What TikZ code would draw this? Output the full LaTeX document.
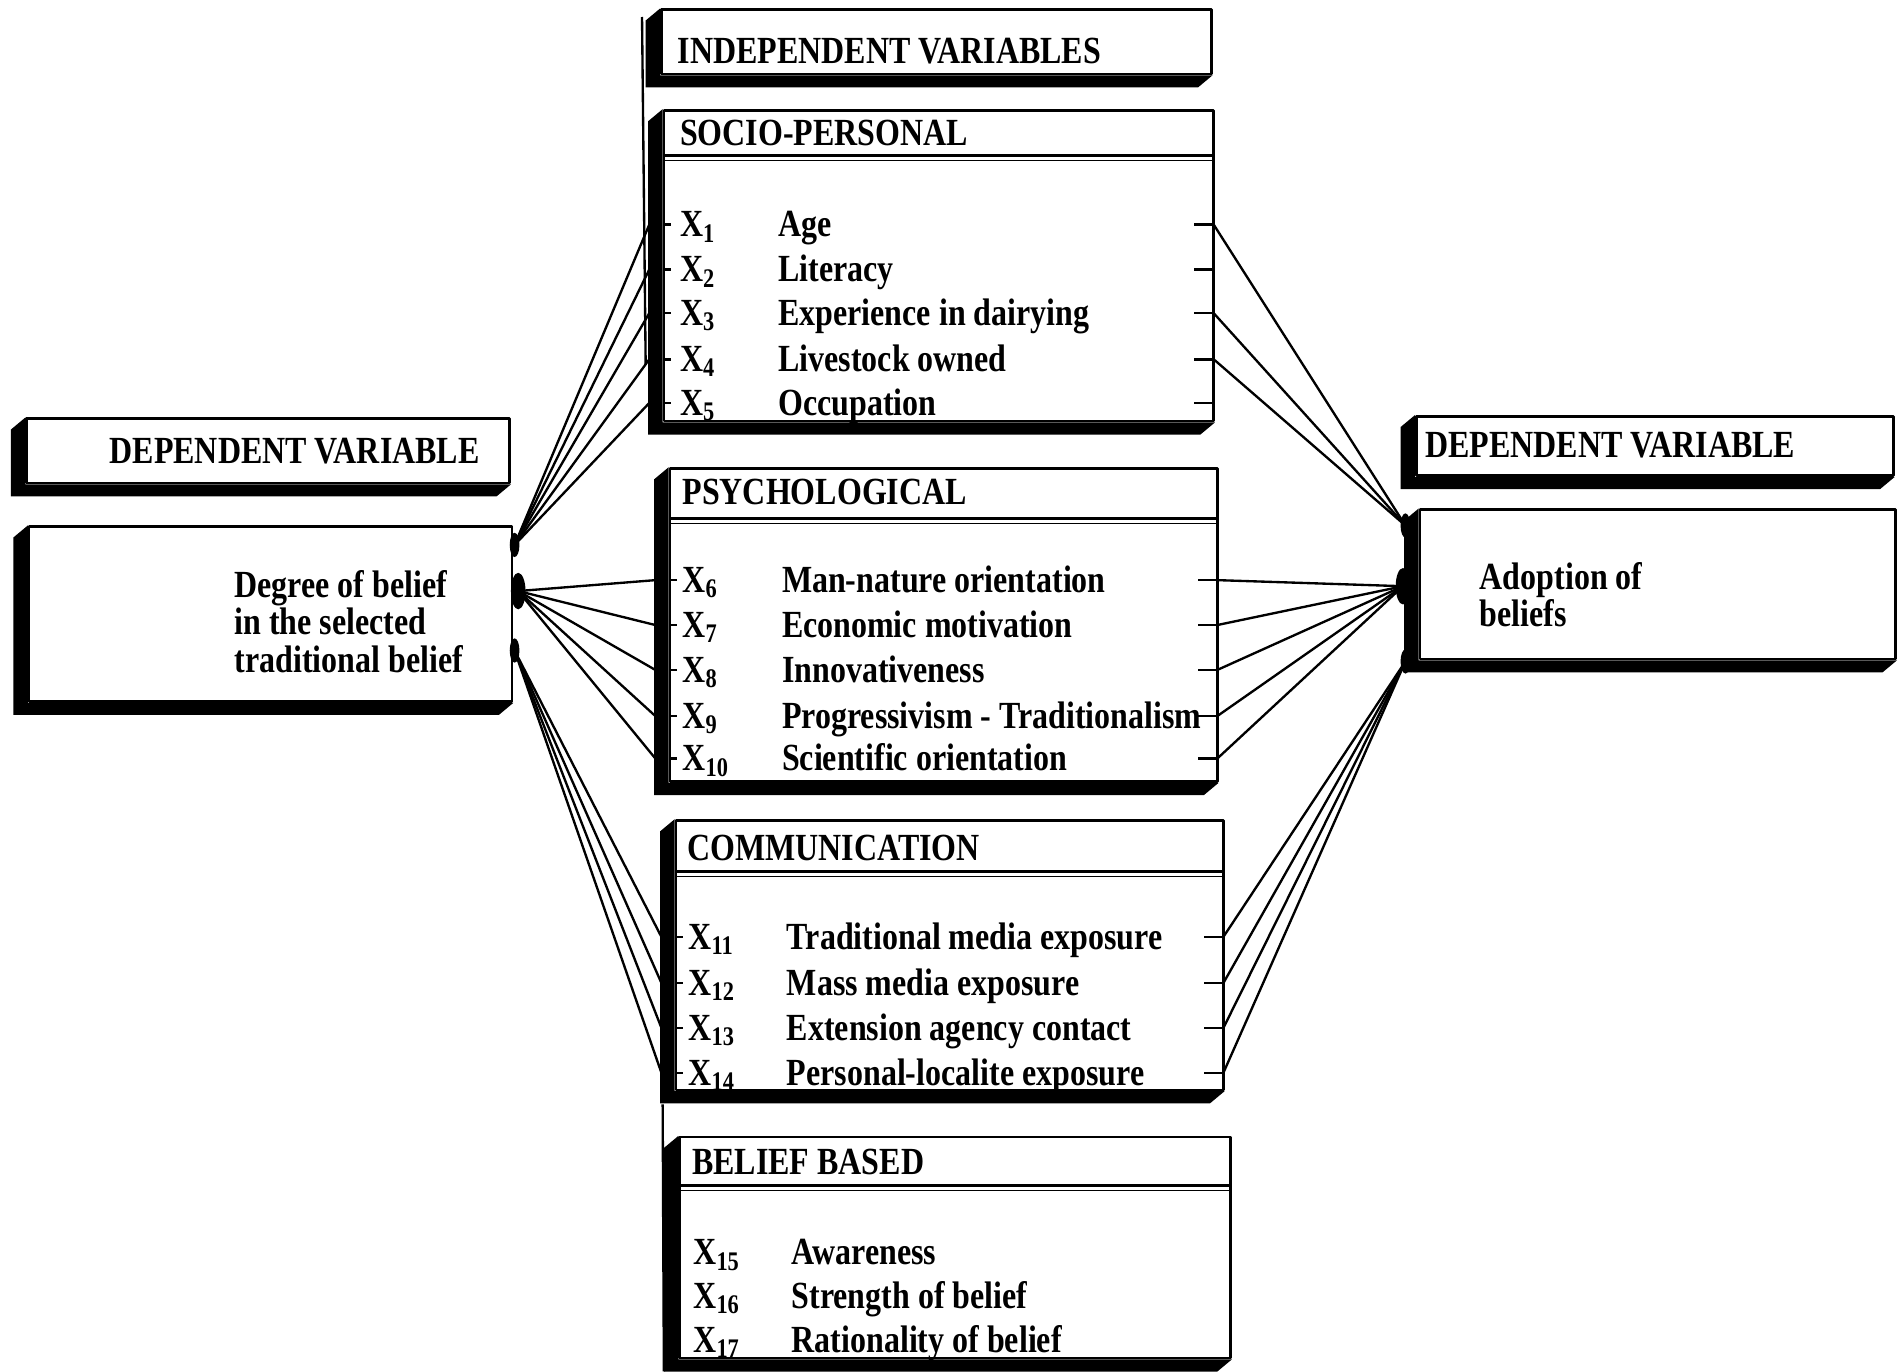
\documentclass[tikz,border=0pt]{standalone}
\usepackage{fontspec}
\setmainfont{Liberation Serif}
\usepackage{tikz}
\usetikzlibrary{math}
\usetikzlibrary{calc}
\usetikzlibrary{fit}
\usetikzlibrary{shapes.geometric}
\tikzstyle{face} = [draw=black, line width=1.2pt, fill=white, inner sep=0pt]
\tikzstyle{txt} = [anchor=base west, inner sep=0pt, font=\fontsize{15}{18}\selectfont\bfseries]
\tikzstyle{wire} = [line width=1.1pt]
\tikzstyle{tick} = [line width=1.2pt]
\tikzstyle{blob} = [ellipse, fill=black, inner sep=0pt, minimum width=0.16cm, minimum height=0.4cm]
\newcommand{\tall}[1]{\scalebox{1}[1.2]{#1}}
\newcommand{\xv}[1]{\tall{\textbf{X}\textsubscript{\textbf{#1}}}}
% a box with its black edge on the left and below
\newcommand{\shbox}[5]{%
  \node[face, fit={(#2,#3) (#4,#5)}] (#1) {};
  \fill (#1.north west) -- ++(-\shx,\shy) -- ($(#1.south west)+(-\shx,\shy)$) -- ($(#1.south east)+(-\shx,\shy)$) -- (#1.south east) -- (#1.south west) -- cycle;
}

\begin{document}
\begin{tikzpicture}[x=0.02cm, y=-0.02cm, line join=round]

  \useasboundingbox (0,0) rectangle (1568,1130);
  \tikzmath{\shx = 12; \shy = 10;}

  % boxes
  \shbox{indep}{545}{8}{998}{61}
  \shbox{socio}{547}{91}{1000}{347}
  \shbox{psych}{552}{386}{1003}{644}
  \shbox{comm}{557}{676}{1008}{898}
  \shbox{belief}{560}{937}{1014}{1119}
  \shbox{depL}{22}{345}{420}{398}
  \shbox{degree}{24}{434}{422}{578}
  \shbox{depR}{1167}{343}{1560}{392}
  \shbox{adopt}{1170}{420}{1562}{543}

  % heads
  \node[txt] (hind) at (558,52) {\tall{INDEPENDENT VARIABLES}};
  \node[txt] (hsoc) at (560,120) {\tall{SOCIO-PERSONAL}};
  \node[txt] (hpsy) at (562,416) {\tall{PSYCHOLOGICAL}};
  \node[txt] (hcom) at (566,709) {\tall{COMMUNICATION}};
  \node[txt] (hbel) at (570,968) {\tall{BELIEF BASED}};
  \draw[tick] (547,128) -- (1000,128) (552,427) -- (1003,427) (557,718) -- (1008,718) (560,977) -- (1014,977);
  \draw (547,132) -- (1000,132) (552,431) -- (1003,431) (557,722) -- (1008,722) (560,981) -- (1014,981);

  \node[txt] (hdl) at (90,382) {\tall{DEPENDENT VARIABLE}};
  \node[txt] (hdr) at (1174,377) {\tall{DEPENDENT VARIABLE}};
  \foreach \j/\y/\lab in {1/492/Degree of belief, 2/523/in the selected, 3/554/traditional belief}
    \node[txt] (dl\j) at (193,\y) {\tall{\lab}};
  \node[txt] (al1) at (1219,486) {\tall{Adoption of}};
  \node[txt] (al2) at (1219,516) {\tall{beliefs}};

  % variables
  \foreach \i/\y/\lab in {1/185/Age, 2/222/Literacy, 3/258/Experience in dairying, 4/296/Livestock owned, 5/332/Occupation}{
    \node[txt] (x\i) at (560,\y+10) {\xv{\i}};
    \node[txt] (v\i) at (641,\y+10) {\tall{\lab}};
    \draw[tick] (547,\y) -- ++(6,0);
    \draw[tick] (1000,\y) coordinate (r\i) -- ++(-16,0);
    \coordinate (l\i) at (535,\y);
  }
  \foreach \i/\y/\lab in {6/478/Man-nature orientation, 7/515/Economic motivation, 8/552/Innovativeness, 9/590/Progressivism - Traditionalism, 10/625/Scientific orientation}{
    \node[txt] (x\i) at (562,\y+10) {\xv{\i}};
    \node[txt] (v\i) at (644,\y+10) {\tall{\lab}};
    \draw[tick] (552,\y) -- ++(6,0);
    \draw[tick] (1003,\y) coordinate (r\i) -- ++(-16,0);
    \coordinate (l\i) at (540,\y);
  }
  \foreach \i/\y/\lab in {11/772/Traditional media exposure, 12/810/Mass media exposure, 13/847/Extension agency contact, 14/884/Personal-localite exposure}{
    \node[txt] (x\i) at (567,\y+10) {\xv{\i}};
    \node[txt] (v\i) at (648,\y+10) {\tall{\lab}};
    \draw[tick] (557,\y) -- ++(6,0);
    \draw[tick] (1008,\y) coordinate (r\i) -- ++(-16,0);
    \coordinate (l\i) at (545,\y);
  }
  \foreach \i/\y/\lab in {15/1032/Awareness, 16/1068/Strength of belief, 17/1104/Rationality of belief}{
    \node[txt] (x\i) at (571,\y+10) {\xv{\i}};
    \node[txt] (v\i) at (652,\y+10) {\tall{\lab}};
  }

  % joints
  \node[blob] (dg1) at (424,449) {};
  \node[blob, minimum width=0.24cm, minimum height=0.6cm] (dg2) at (427,487) {};
  \node[blob] (dg3) at (424,536) {};
  \node[blob] (ad1) at (1158,433) {};
  \node[blob, minimum width=0.24cm, minimum height=0.6cm] (ad2) at (1156,483) {};
  \node[blob] (ad3) at (1158,545) {};

  \foreach \i in {1,...,5} \draw[wire] (dg1.center) -- (l\i);
  \foreach \i in {6,...,10} \draw[wire] (dg2.center) -- (l\i);
  \foreach \i in {11,...,14} \draw[wire] (dg3.center) -- (l\i);
  \foreach \i in {1,3,4} \draw[wire] (r\i) -- (ad1.center);
  \foreach \i in {6,...,10} \draw[wire] (r\i) -- (ad2.center);
  \foreach \i in {11,...,14} \draw[wire] (r\i) -- (ad3.center);

  % edge lines
  \coordinate (e1) at (529,14);
  \coordinate (e2) at (532,300);
  \coordinate (e3) at (546,910);
  \coordinate (e4) at (547,1130);
  \draw[wire] (e1) -- (e2) (e3) -- (e4);

\end{tikzpicture}
\end{document}
